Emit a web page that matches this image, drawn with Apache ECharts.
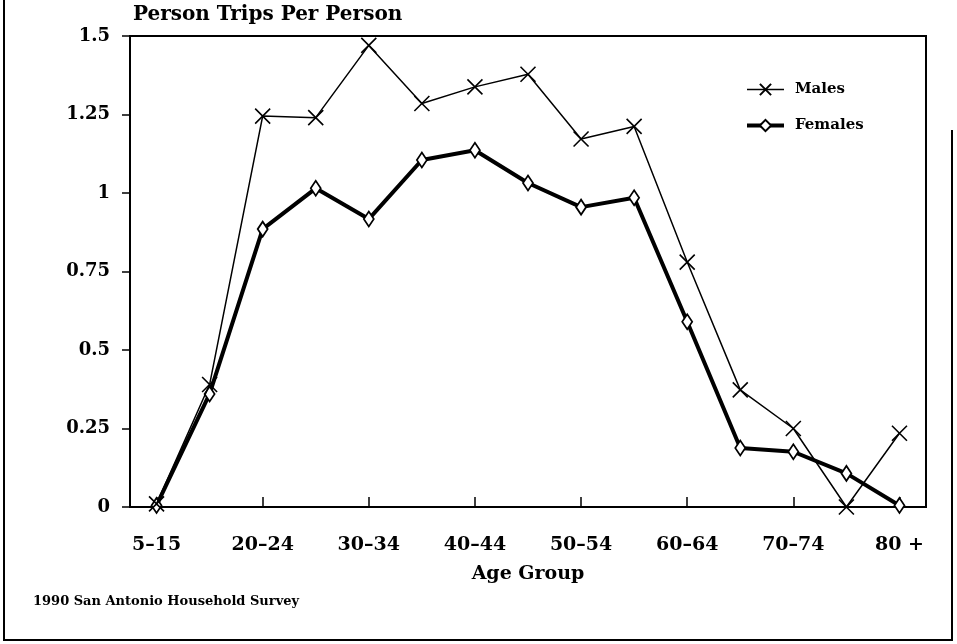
<!DOCTYPE html>
<html>
<head>
<meta charset="utf-8">
<script src="https://cdn.jsdelivr.net/npm/echarts@6/dist/echarts.min.js"></script>
<style>
    html, body { margin: 0; padding: 0; background: #fff; }
    #trips_chart { width: 957px; height: 644px; }
</style>
</head>
<body>
<div id="trips_chart"></div>
<script>

// Chart data
// ------------------------------

var ageGroups = ['5–15', '16–19', '20–24', '25–29', '30–34', '35–39', '40–44', '45–49',
    '50–54', '55–59', '60–64', '65–69', '70–74', '75–79', '80 +'];
var males = [0.01, 0.39, 1.245, 1.24, 1.47, 1.285, 1.338, 1.378, 1.172, 1.212, 0.78, 0.373, 0.25, 0, 0.235];
var females = [0.005, 0.36, 0.885, 1.015, 0.917, 1.105, 1.136, 1.032, 0.955, 0.985, 0.59, 0.188, 0.176, 0.107, 0.005];
var yTicks = ['0', '0.25', '0.5', '0.75', '1', '1.25', '1.5'];


// Setup chart
// ------------------------------

var serifBold = {
    fontFamily: '"DejaVu Serif", serif',
    fontWeight: 'bold',
    color: '#000'
};

var chart_element = document.getElementById('trips_chart');
var trips_chart = echarts.init(chart_element);

trips_chart.setOption({
    animation: false,
    backgroundColor: '#fff',
    textStyle: serifBold,

    grid: {
        left: 130,
        right: 31,
        top: 36,
        bottom: 137,
        show: true,
        borderColor: '#000',
        borderWidth: 2,
        containLabel: false
    },

    legend: {
        orient: 'vertical',
        left: 740,
        top: 77,
        itemWidth: 37,
        itemHeight: 14,
        itemGap: 21,
        data: [
            { name: 'Males', lineStyle: { width: 1.5, color: '#000' } },
            { name: 'Females', lineStyle: { width: 4, color: '#000' } }
        ],
        textStyle: Object.assign({}, serifBold, { fontSize: 15, padding: [0, 0, 0, 6] })
    },

    // Outer frame of the page and footnote
    graphic: [{
        type: 'polyline',
        shape: { points: [[4, 0], [4, 640], [952, 640], [952, 130]] },
        style: { stroke: '#000', lineWidth: 2, fill: null }
    }, {
        type: 'text',
        left: 33,
        top: 595,
        style: {
            text: '1990 San Antonio Household Survey',
            font: 'bold 13px "DejaVu Serif", serif',
            fill: '#000'
        }
    }],

    xAxis: [{
        type: 'category',
        data: ageGroups,
        boundaryGap: true,
        name: 'Age Group',
        nameLocation: 'middle',
        nameGap: 58,
        nameTextStyle: Object.assign({}, serifBold, { fontSize: 19 }),
        axisLine: { onZero: false, lineStyle: { color: '#000', width: 2 } },
        axisTick: { alignWithLabel: true, interval: 0, length: 6, lineStyle: { color: '#000', width: 1.5 } },
        axisLabel: Object.assign({}, serifBold, { fontSize: 19, interval: 1, margin: 29 }),
        splitLine: { show: false }
    }, {
        // major ticks reaching up into the plot
        type: 'category',
        data: ageGroups,
        boundaryGap: true,
        position: 'top',
        offset: -471,
        axisLine: { show: false, onZero: false },
        axisTick: { show: true, alignWithLabel: true, interval: 1, length: 10, lineStyle: { color: '#000', width: 1.5 } },
        axisLabel: { show: false },
        splitLine: { show: false }
    }],

    yAxis: [{
        type: 'value',
        min: 0,
        max: 1.5,
        interval: 0.25,
        name: 'Person Trips Per Person',
        nameLocation: 'end',
        nameGap: 11,
        nameTextStyle: Object.assign({}, serifBold, { fontSize: 20, align: 'left', padding: [0, 0, 0, 3] }),
        axisLine: { show: true, lineStyle: { color: '#000', width: 2 } },
        axisTick: { show: true, length: 8, lineStyle: { color: '#000', width: 1.5 } },
        axisLabel: Object.assign({}, serifBold, {
            fontSize: 18,
            margin: 20,
            formatter: function(value) {
                return yTicks[Math.round(value / 0.25)];
            }
        }),
        splitLine: { show: false }
    }],

    series: [{
        name: 'Males',
        type: 'line',
        data: males,
        symbol: 'path://M0,0L10,10M10,0L0,10',
        symbolSize: 15,
        lineStyle: { color: '#000', width: 1.5 },
        itemStyle: { color: '#000', borderColor: '#000', borderWidth: 1.6 },
        z: 3
    }, {
        name: 'Females',
        type: 'line',
        data: females,
        symbol: 'diamond',
        symbolSize: [10, 15],
        lineStyle: { color: '#000', width: 4 },
        itemStyle: { color: '#fff', borderColor: '#000', borderWidth: 1.8 },
        z: 2
    }]
});
</script>
</body>
</html>
